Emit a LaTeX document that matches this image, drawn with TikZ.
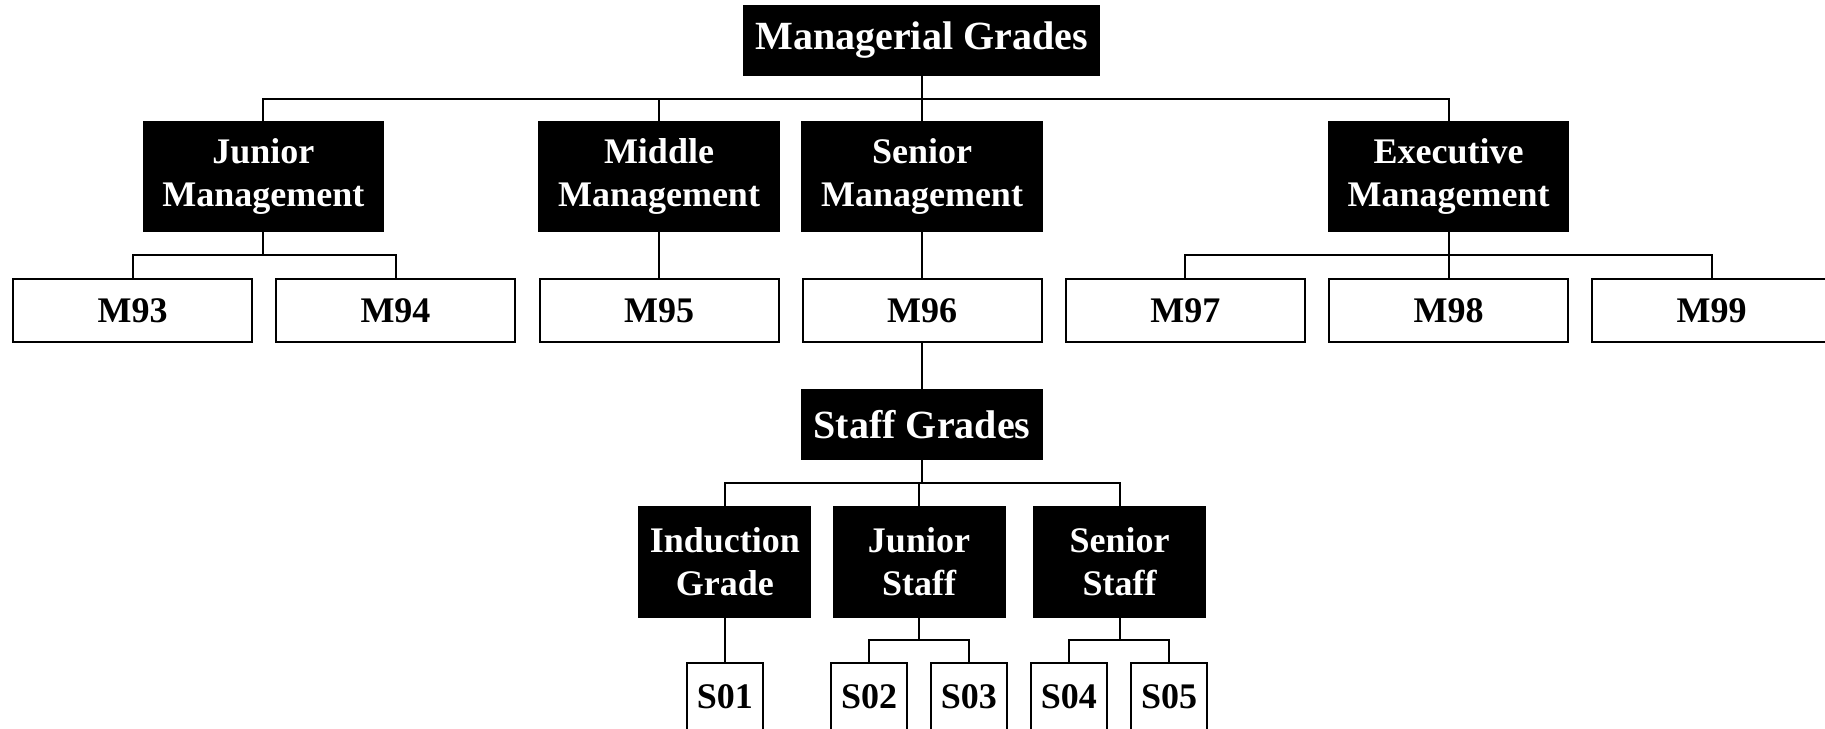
\documentclass[tikz,border=0pt]{standalone}
\usepackage{fontspec}
\setmainfont{Liberation Serif}
\usetikzlibrary{calc}

\tikzset{every path/.style={line width=1pt}}

\begin{document}
\begin{tikzpicture}[x=0.5pt,y=-0.5pt,
    blackbox/.style={rectangle,draw=black,fill=black,text=white,inner sep=0pt,align=center,
      font=\fontsize{18}{21.8}\selectfont\bfseries},
    whitebox/.style={rectangle,draw=black,fill=white,text=black,inner sep=0pt,align=center,
      font=\fontsize{18}{21.8}\selectfont\bfseries},
    headbox/.style={blackbox,font=\fontsize{20}{24}\selectfont\bfseries,minimum height=34.5pt},
    mgmtbox/.style={blackbox,minimum width=119.75pt,minimum height=54.5pt},
    staffbox/.style={blackbox,minimum width=85.5pt,minimum height=55pt},
    gradebox/.style={whitebox,minimum width=119.5pt,minimum height=31.5pt},
    sbox/.style={whitebox,minimum width=37.75pt,minimum height=34pt},
    elbow/.style={draw,to path={(\tikztostart.south) |- ($(\tikztostart.south)!.5!(\tikztotarget.north)$) -| (\tikztotarget.north)}}]
    \useasboundingbox (0,0) rectangle (1825,728);
    % managerial grades
    \node[headbox,minimum width=177.5pt] (mg) at (921.5,40.5) {Managerial Grades};
    \node[mgmtbox] (jm) at (263.4,176.5) {Junior\\Management};
    \node[mgmtbox] (mm) at (659,176.5) {Middle\\Management};
    \node[mgmtbox] (sm) at (922,176.5) {Senior\\Management};
    \node[mgmtbox] (em) at (1448.7,176.5) {Executive\\Management};
    \node[gradebox] (m93) at (132.6,310.5) {M93};
    \node[gradebox] (m94) at (395.5,310.5) {M94};
    \node[gradebox] (m95) at (659,310.5) {M95};
    \node[gradebox] (m96) at (922,310.5) {M96};
    \node[gradebox] (m97) at (1185.3,310.5) {M97};
    \node[gradebox] (m98) at (1448.7,310.5) {M98};
    \node[gradebox] (m99) at (1711.5,310.5) {M99};
    % staff grades
    \node[headbox,minimum width=119.75pt] (sg) at (922,424.7) {Staff Grades};
    \node[staffbox] (ig) at (724.8,561.7) {Induction\\Grade};
    \node[staffbox] (js) at (919,561.7) {Junior\\Staff};
    \node[staffbox] (ss) at (1119.6,561.7) {Senior\\Staff};
    \node[sbox] (s01) at (724.8,696.7) {S01};
    \node[sbox] (s02) at (869,696.7) {S02};
    \node[sbox] (s03) at (968.8,696.7) {S03};
    \node[sbox] (s04) at (1068.8,696.7) {S04};
    \node[sbox] (s05) at (1169,696.7) {S05};
    \path (mg) edge[elbow] (jm) edge[elbow] (mm) edge[elbow] (sm) edge[elbow] (em);
    \path (jm) edge[elbow] (m93) edge[elbow] (m94);
    \path (mm) edge[elbow] (m95);
    \path (sm) edge[elbow] (m96);
    \path (em) edge[elbow] (m97) edge[elbow] (m98) edge[elbow] (m99);
    \path (m96) edge[elbow] (sg);
    \path (sg) edge[elbow] (ig) edge[elbow] (js) edge[elbow] (ss);
    \path (ig) edge[elbow] (s01);
    \path (js) edge[elbow] (s02) edge[elbow] (s03);
    \path (ss) edge[elbow] (s04) edge[elbow] (s05);
\end{tikzpicture}
\end{document}
